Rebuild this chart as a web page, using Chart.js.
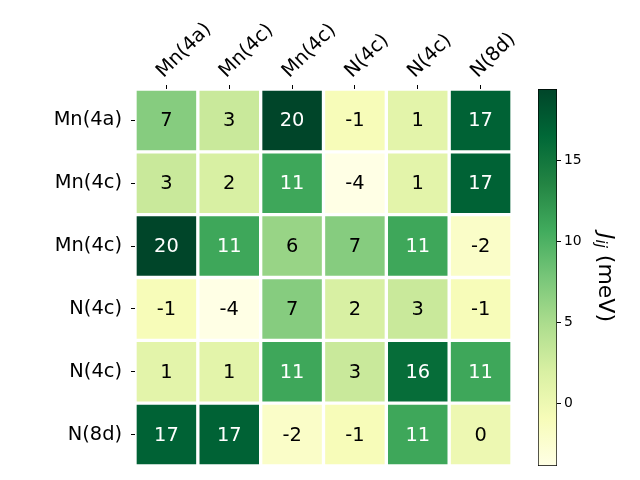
<!DOCTYPE html>
<html>
<head>
<meta charset="utf-8">
<script src="https://cdn.jsdelivr.net/npm/chart.js@4"></script>
<style>
  body { margin: 0; background: #fff; }
  canvas { position: absolute; left: 0; top: 0; }
</style>
</head>
<body>
<canvas id="heat" width="640" height="480"></canvas>
<canvas id="cbar" width="640" height="480"></canvas>
<script>
const colLabels = ['Mn(4a)', 'Mn(4c)', 'Mn(4c)', 'N(4c)', 'N(4c)', 'N(8d)'];
const rowLabels = ['Mn(4a)', 'Mn(4c)', 'Mn(4c)', 'N(4c)', 'N(4c)', 'N(8d)'];
const jRows = [
  [7, 3, 20, -1, 1, 17],
  [3, 2, 11, -4, 1, 17],
  [20, 11, 6, 7, 11, -2],
  [-1, -4, 7, 2, 3, -1],
  [1, 1, 11, 3, 16, 11],
  [17, 17, -2, -1, 11, 0],
];
const cbarMin = -3.9;
const cbarMax = 19.45;
const cbarTicks = [0, 5, 10, 15];

const FONT = 'DejaVu Sans';
// matplotlib YlGn
const ylgn = ['#ffffe5', '#f7fcb9', '#d9f0a3', '#addd8e', '#78c679', '#41ab5d', '#238443', '#006837', '#004529'];

const hex = (h) => [1, 3, 5].map((i) => parseInt(h.slice(i, i + 2), 16));
const norm = (v) => Math.min(1, Math.max(0, (v - cbarMin) / (cbarMax - cbarMin)));
const colorFor = (v) => {
  const t = norm(v) * (ylgn.length - 1);
  const i = Math.min(Math.floor(t), ylgn.length - 2);
  const f = t - i;
  const a = hex(ylgn[i]);
  const b = hex(ylgn[i + 1]);
  const c = a.map((x, k) => Math.round(x + (b[k] - x) * f));
  return `rgb(${c[0]}, ${c[1]}, ${c[2]})`;
};

const cellText = {
  id: 'cellText',
  afterDatasetsDraw(chart) {
    const ctx = chart.ctx;
    ctx.save();
    ctx.font = `19.4px "${FONT}"`;
    ctx.textAlign = 'center';
    ctx.textBaseline = 'middle';
    chart.data.datasets.forEach((ds, i) => {
      chart.getDatasetMeta(i).data.forEach((bar, j) => {
        const v = ds.values[j];
        const p = bar.getCenterPoint();
        ctx.fillStyle = norm(v) > 0.5 ? '#fff' : '#000';
        ctx.fillText(String(v), p.x, p.y + 1);
      });
    });
    ctx.restore();
  },
};

const datasets = jRows.map((row, r) => ({
  data: row.map(() => [r, r + 1]),
  values: row,
  backgroundColor: row.map(colorFor),
  borderColor: '#fff',
  borderWidth: 2,
  borderSkipped: false,
  grouped: false,
  barPercentage: 1,
  categoryPercentage: 1,
}));

new Chart(document.getElementById('heat'), {
  type: 'bar',
  data: { labels: colLabels, datasets },
  options: {
    responsive: false,
    animation: false,
    layout: { padding: { left: 0, right: 128, top: 0, bottom: 14 } },
    plugins: { legend: { display: false }, tooltip: { enabled: false } },
    scales: {
      x: {
        position: 'top',
        offset: true,
        grid: { offset: false, drawOnChartArea: false, tickLength: 4, tickColor: '#000' },
        border: { display: false },
        ticks: { color: '#000', font: { family: FONT, size: 19.4 }, minRotation: 45, maxRotation: 45, padding: 2, labelOffset: 10 },
        afterFit(s) { s.height = 89; s.paddingLeft = 0; s.paddingRight = 0; },
      },
      y: { type: 'linear', display: false, min: 0, max: 6, reverse: true },
      rows: {
        type: 'category',
        axis: 'y',
        position: 'left',
        labels: rowLabels,
        offset: true,
        grid: { offset: false, drawOnChartArea: false, tickLength: 4, tickColor: '#000' },
        border: { display: false },
        ticks: { color: '#000', font: { family: FONT, size: 19.4 }, padding: 9 },
        afterFit(s) { s.width = 135; s.paddingTop = 0; s.paddingBottom = 0; },
      },
    },
  },
  plugins: [cellText],
});

const cbarTitle = {
  id: 'cbarTitle',
  afterDraw(chart) {
    const ctx = chart.ctx;
    const area = chart.chartArea;
    ctx.save();
    ctx.translate(605, (area.top + area.bottom) / 2);
    ctx.rotate(Math.PI / 2);
    ctx.fillStyle = '#000';
    ctx.textBaseline = 'middle';
    const parts = [
      { t: 'J', f: `italic 22px "${FONT}"`, dy: 0 },
      { t: 'ij', f: `italic 15px "${FONT}"`, dy: 5 },
      { t: ' (meV)', f: `22px "${FONT}"`, dy: 0 },
    ];
    let total = 0;
    parts.forEach((p) => { ctx.font = p.f; p.w = ctx.measureText(p.t).width; total += p.w; });
    let x = -total / 2;
    parts.forEach((p) => { ctx.font = p.f; ctx.fillText(p.t, x, p.dy); x += p.w; });
    ctx.restore();
  },
};

new Chart(document.getElementById('cbar'), {
  type: 'bar',
  data: {
    labels: [''],
    datasets: [{
      data: [[cbarMin, cbarMax]],
      backgroundColor(c) {
        const chart = c.chart;
        const area = chart.chartArea;
        if (!area) return ylgn[4];
        const ys = chart.scales.y;
        const g = chart.ctx.createLinearGradient(0, ys.getPixelForValue(cbarMin), 0, ys.getPixelForValue(cbarMax));
        ylgn.forEach((col, i) => g.addColorStop(i / (ylgn.length - 1), col));
        return g;
      },
      borderColor: '#000',
      borderWidth: 1,
      borderSkipped: false,
      barPercentage: 1,
      categoryPercentage: 1,
    }],
  },
  options: {
    responsive: false,
    animation: false,
    layout: { padding: { left: 538, right: 0, top: 89, bottom: 14 } },
    plugins: { legend: { display: false }, tooltip: { enabled: false } },
    scales: {
      x: { display: false },
      y: {
        position: 'right',
        min: cbarMin,
        max: cbarMax,
        afterBuildTicks(s) { s.ticks = cbarTicks.map((v) => ({ value: v })); },
        grid: { drawOnChartArea: false, tickLength: 4, tickColor: '#000' },
        border: { display: false },
        ticks: { color: '#000', font: { family: FONT, size: 13.9 }, padding: 3 },
        afterFit(s) { s.width = 640 - 538 - 19; },
      },
    },
  },
  plugins: [cbarTitle],
});
</script>
</body>
</html>
